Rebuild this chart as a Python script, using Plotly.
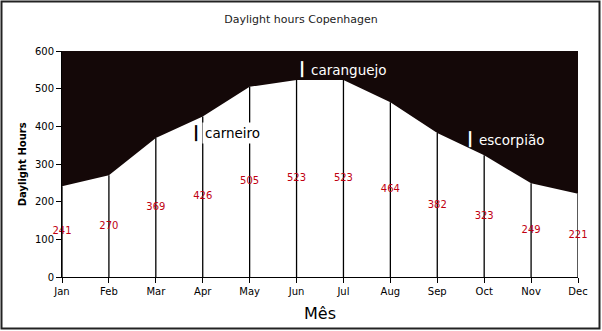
import plotly.graph_objects as go

months = ["Jan", "Feb", "Mar", "Apr", "May", "Jun", "Jul", "Aug", "Sep", "Oct", "Nov", "Dec"]
hours = [241, 270, 369, 426, 505, 523, 523, 464, 382, 323, 249, 221]
y_max = 600
y_ticks = [0, 100, 200, 300, 400, 500, 600]

# zodiac labels: text, left x of the word (month index units), y value
zodiac_text = ["carneiro", "caranguejo", "escorpião"]
zodiac_x = [2.98, 5.24, 8.82]
zodiac_y = [382, 550, 364]
zodiac_color = ["black", "white", "white"]
zodiac_bg = ["white", "rgba(0,0,0,0)", "rgba(0,0,0,0)"]

xs = list(range(len(months)))

fig = go.Figure()
# lower boundary (data line)
fig.add_trace(go.Scatter(x=xs, y=hours, mode="lines", line=dict(width=0, color="#140808"),
                         showlegend=False, hoverinfo="skip"))
# dark area from data to top
fig.add_trace(go.Scatter(x=xs, y=[y_max] * len(xs), mode="lines", line=dict(width=0, color="#140808"),
                         fill="tonexty", fillcolor="#140808", showlegend=False, hoverinfo="skip"))
# drop lines
dx, dy = [], []
for x, v in zip(xs, hours):
    dx += [x, x, None]
    dy += [0, v, None]
fig.add_trace(go.Scatter(x=dx, y=dy, mode="lines", line=dict(color="black", width=1.3),
                         showlegend=False, hoverinfo="skip"))
# data labels at half height
fig.add_trace(go.Scatter(x=xs, y=[v / 2 for v in hours], mode="text", text=[str(v) for v in hours],
                         textposition="middle center",
                         textfont=dict(family="DejaVu Sans", size=10, color="#c00010"),
                         cliponaxis=False, showlegend=False, hoverinfo="skip"))

annotations = []
for t, x, y, c, bg in zip(zodiac_text, zodiac_x, zodiac_y, zodiac_color, zodiac_bg):
    annotations.append(dict(x=x, y=y, xref="x", yref="y", text=t, showarrow=False,
                            xanchor="left", yanchor="middle", bgcolor=bg, borderpad=2,
                            font=dict(family="DejaVu Sans", size=13.5, color=c)))
    annotations.append(dict(x=x, y=y, xref="x", yref="y", text="┃", showarrow=False,
                            xanchor="center", yanchor="middle", xshift=-6,
                            font=dict(family="DejaVu Sans", size=13.5, color=c)))
annotations.append(dict(x=0.5, y=-(313 - 277) / 226, xref="paper", yref="paper", text="Mês",
                        showarrow=False, xanchor="center", yanchor="middle",
                        font=dict(family="DejaVu Sans", size=16, color="black")))
annotations.append(dict(x=-0.077, y=0.5, xref="paper", yref="paper", text="<b>Daylight Hours</b>",
                        showarrow=False, textangle=-90, xanchor="center", yanchor="middle",
                        font=dict(family="DejaVu Sans", size=10, color="black")))

fig.update_layout(
    width=602, height=331,
    margin=dict(l=62, r=24, t=51, b=54),
    paper_bgcolor="white", plot_bgcolor="white",
    title=dict(text="Daylight hours Copenhagen", x=0.5, xanchor="center", y=1 - 19 / 331,
               yanchor="middle", font=dict(family="DejaVu Sans", size=11, color="#222222")),
    xaxis=dict(range=[0, 11], tickvals=xs, ticktext=months, showgrid=False, zeroline=False,
               showline=True, linecolor="black", linewidth=1, ticks="outside", ticklen=5,
               tickcolor="black", tickfont=dict(family="DejaVu Sans", size=10, color="black")),
    yaxis=dict(range=[0, y_max], tickvals=y_ticks, showgrid=False, zeroline=False,
               showline=True, linecolor="black", linewidth=1, ticks="outside", ticklen=5,
               tickcolor="black", tickfont=dict(family="DejaVu Sans", size=10, color="black")),
    annotations=annotations,
    shapes=[dict(type="rect", xref="paper", yref="paper",
                 x0=(1.5 - 62) / 516, x1=(599.5 - 62) / 516,
                 y0=(277 - 328.5) / 226, y1=(277 - 1.5) / 226,
                 line=dict(color="#222222", width=2), fillcolor="rgba(0,0,0,0)", layer="above")],
)

fig.write_html("out.html")
